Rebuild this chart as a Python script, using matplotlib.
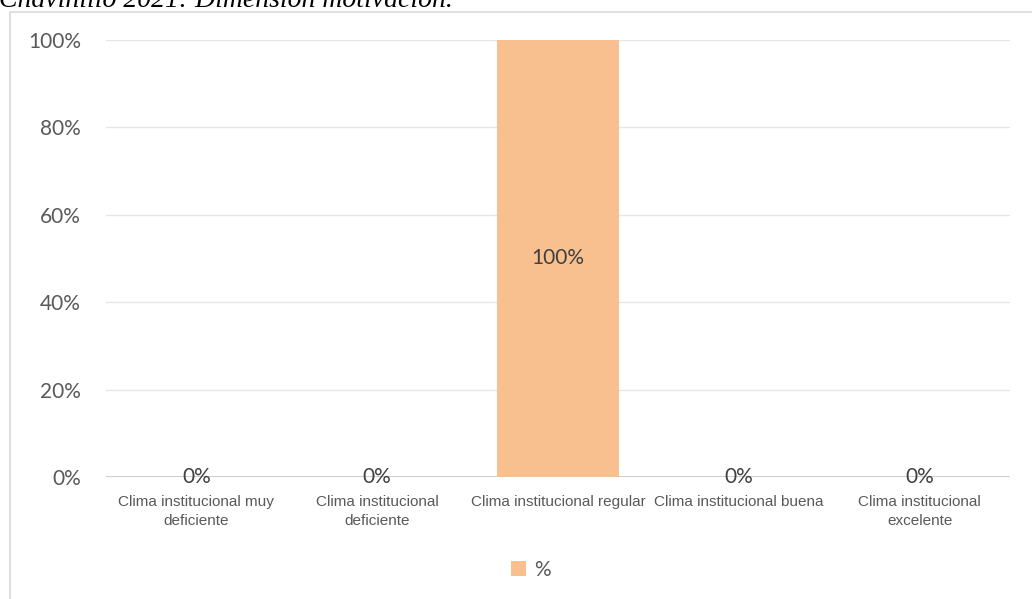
import matplotlib.pyplot as plt
from matplotlib.patches import Rectangle

# Distribución de la dimensión motivación
categorias = [
    "Clima institucional muy\ndeficiente",
    "Clima institucional\ndeficiente",
    "Clima institucional regular",
    "Clima institucional buena",
    "Clima institucional\nexcelente",
]
porcentajes = [0, 0, 100, 0, 0]
ticks_y = [0, 20, 40, 60, 80, 100]

color_barra = "#f9c08f"
color_texto = "#404040"

fig = plt.figure(figsize=(10.32, 5.99), dpi=100)

# marco del gráfico (se sale por la derecha y abajo)
fig.patches.append(Rectangle((10 / 1032, -0.05), 1.1, 1 - 12 / 599 + 0.05,
                             transform=fig.transFigure, fill=False,
                             edgecolor="#d9d9d9", linewidth=1.2))

# título recortado en la parte superior
fig.text(-0.001, 1 - 7 / 599, "Chavinillo 2021: Dimensión motivación.",
         fontsize=20, fontstyle="italic", family="Liberation Serif",
         color="#000000", va="baseline", ha="left")

ax = fig.add_axes([106 / 1032, 1 - 477 / 599, (1010 - 106) / 1032, (477 - 40) / 599])

x = range(len(categorias))
barras = ax.bar(x, porcentajes, width=0.67, color=color_barra, zorder=2)

for xi, v in zip(x, porcentajes):
    y = v / 2 if v > 0 else 0
    ax.text(xi, y, f"{v}%", ha="center", va="center", fontsize=15,
            family="Lato", color=color_texto, zorder=3)

ax.set_xlim(-0.5, len(categorias) - 0.5)
ax.set_ylim(0, 100)
ax.set_yticks(ticks_y)
ax.set_yticklabels([f"{t}%" for t in ticks_y], family="Lato", fontsize=15,
                   color="#595959")
ax.set_xticks(list(x))
ax.set_xticklabels(categorias, family="Liberation Sans", fontsize=11,
                   color="#595959", linespacing=1.45)
ax.tick_params(axis="both", length=0)
ax.tick_params(axis="y", pad=18)
ax.tick_params(axis="x", pad=13)

ax.grid(axis="y", color="#e6e6e6", linewidth=1, zorder=0)
ax.axhline(0, color="#bfbfbf", linewidth=1.2, zorder=1)
for s in ax.spines.values():
    s.set_visible(False)

leg = fig.legend([barras[2]], ["%"], loc="center", bbox_to_anchor=(531 / 1032, 1 - 570 / 599),
                 frameon=False, prop={"family": "Lato", "size": 15},
                 handlelength=0.7, handleheight=0.7, handletextpad=0.4)
for t in leg.get_texts():
    t.set_color("#595959")

fig.savefig("out.png", dpi=100)
